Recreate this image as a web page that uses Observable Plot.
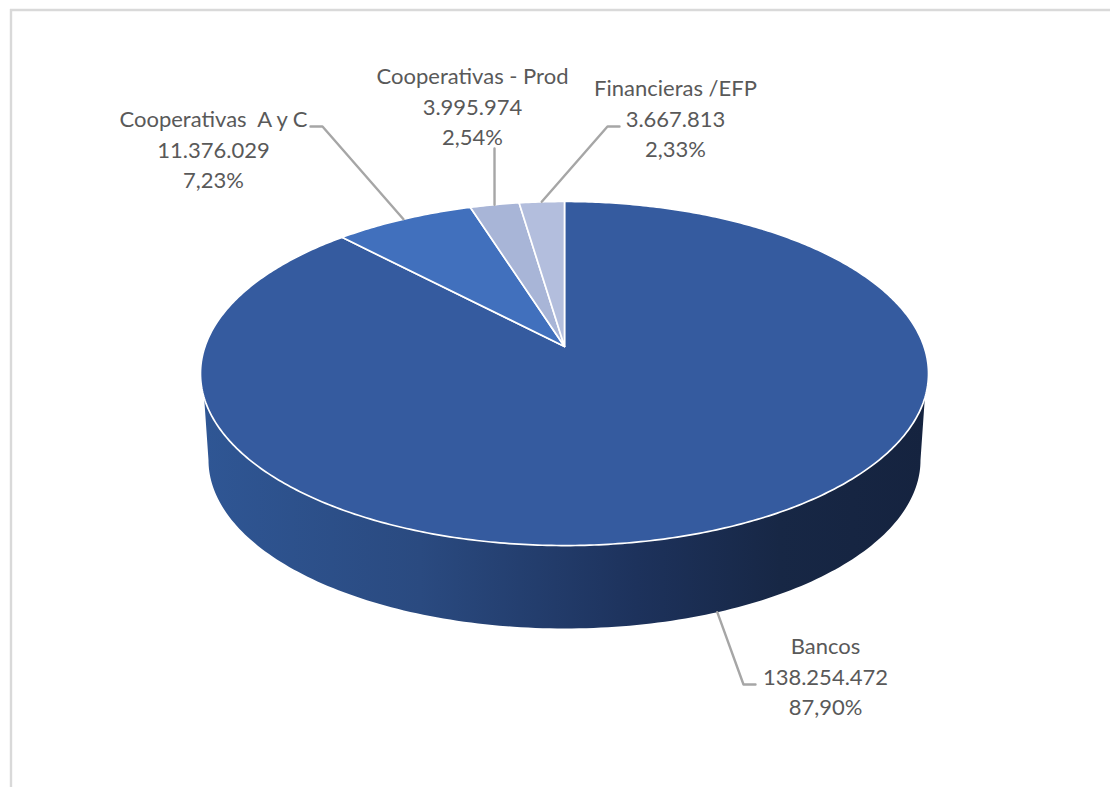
<!DOCTYPE html>
<html lang="es">
<head>
<meta charset="utf-8">
<title>Cartera por tipo de entidad</title>
<style>
  html, body { margin: 0; padding: 0; background: #fff; overflow: hidden; }
  svg { display: block; }
</style>
<script src="https://cdn.jsdelivr.net/npm/d3@7"></script>
<script src="https://cdn.jsdelivr.net/npm/@observablehq/plot@0.6"></script>
</head>
<body>
<script>
// ---- Data ----
const categories = ["Bancos", "Cooperativas  A y C", "Cooperativas - Prod", "Financieras /EFP"];
const amounts = [138254472, 11376029, 3995974, 3667813];

// ---- Styles ----
const sliceColors = ["#355B9F", "#4170BD", "#A8B5D7", "#B3BEDD"];
const textColor = "#595959";
const leaderColor = "#A6A6A6";
const frameColor = "#D9D9D9";

// ---- Camera for the tilted disc ----
const camera = {cx: 564, cy: 346, k: 359.5, h: 167.8, q: 0.157};
const base = {cy: 433.3, scale: 0.978};

// ---- Label layout ----
const labelX = [825, 213, 472, 675];
const labelY = [674.5, 147.5, 104.5, 116.5];
// elbow points of each leader, from the label end toward the slice
const leaderEnds = [[755, 684], [310, 126], [494, 148], [619, 126]];
const leaderElbows = [[743, 684], [322, 126], null, [607, 126]];

const W = 1110, H = 787;
const fmt = d3.formatLocale({decimal: ",", thousands: ".", grouping: [3]});
const total = d3.sum(amounts);
const fmtValue = fmt.format(",d");
const fmtPct = fmt.format(".2f");

const arcs = d3.pie().sort(null).value(d => d)(amounts);

function project(angle, plane = "top") {
  const u = Math.sin(angle), v = Math.cos(angle);
  const w = 1 + camera.q * v;
  if (plane === "top") {
    return {x: camera.cx + camera.k * u / w, y: camera.cy - camera.h * v / w};
  }
  return {
    x: camera.cx + base.scale * camera.k * u / w,
    y: base.cy - base.scale * camera.h * v / w
  };
}

// Slices of the top face
const faces = [];
arcs.forEach((a, i) => {
  const name = categories[i];
  faces.push({name, x: camera.cx, y: camera.cy});
  const n = Math.max(8, Math.ceil((a.endAngle - a.startAngle) * 90));
  for (let j = 0; j <= n; ++j) {
    const t = a.startAngle + (a.endAngle - a.startAngle) * j / n;
    faces.push({name, ...project(t)});
  }
});

// Visible wall: front of the top rim, then front of the base rim back again
const wallTop = [], wallBase = [];
for (let j = 0; j <= 360; ++j) {
  const t = Math.PI * 2 * j / 360;
  const p = project(t), b = project(t, "base");
  if (p.y >= 396) wallTop.push(p);
  if (b.y >= 459) wallBase.push(b);
}
const wall = [...wallTop, ...wallBase.reverse()];

// Leader lines
const leaders = [];
arcs.forEach((a, i) => {
  const mid = (a.startAngle + a.endAngle) / 2;
  const anchor = i === 0 ? project(mid, "base") : project(mid);
  const pts = [leaderEnds[i], leaderElbows[i], [anchor.x, anchor.y]].filter(Boolean);
  pts.forEach(p => leaders.push({name: categories[i], x: p[0], y: p[1]}));
});

const labels = categories.map((name, i) => ({
  x: labelX[i],
  y: labelY[i],
  text: `${name}\n${fmtValue(amounts[i])}\n${fmtPct(amounts[i] / total * 100)}%`
}));

function gradient() {
  const defs = d3.create("svg:defs");
  const g = defs.append("linearGradient").attr("id", "wallShade")
    .attr("x1", "0").attr("x2", "1").attr("y1", "0").attr("y2", "0");
  [[0, "#2F5694"], [0.3, "#2A4A80"], [0.6, "#1D325C"], [0.8, "#172745"], [1, "#15233F"]]
    .forEach(([o, c]) => g.append("stop").attr("offset", o).attr("stop-color", c));
  return defs.node();
}

const chart = Plot.plot({
  width: W,
  height: H,
  margin: 0,
  style: {background: "#fff", whiteSpace: "pre"},
  x: {domain: [0, W], range: [0, W], axis: null},
  y: {domain: [0, H], range: [0, H], axis: null},
  color: {domain: categories, range: sliceColors},
  marks: [
    gradient,
    Plot.ruleY([9.5], {x1: 10, x2: W, stroke: frameColor, strokeWidth: 2.4}),
    Plot.ruleX([10.5], {y1: 9, y2: H, stroke: frameColor, strokeWidth: 2.4}),
    Plot.line(wall, {x: "x", y: "y", fill: "url(#wallShade)", stroke: "none", curve: "linear-closed"}),
    Plot.line(faces, {x: "x", y: "y", z: "name", fill: "name", stroke: "#fff", strokeWidth: 1.7,
      strokeLinejoin: "round", curve: "linear-closed"}),
    Plot.line(leaders, {x: "x", y: "y", z: "name", stroke: leaderColor, strokeWidth: 2.4, curve: "linear"}),
    Plot.text(labels, {x: "x", y: "y", text: "text", fill: textColor, fontSize: 22, lineHeight: 1.39,
      fontFamily: "Lato", textAnchor: "middle", lineAnchor: "middle"})
  ]
});
document.body.append(chart);
</script>
</body>
</html>
